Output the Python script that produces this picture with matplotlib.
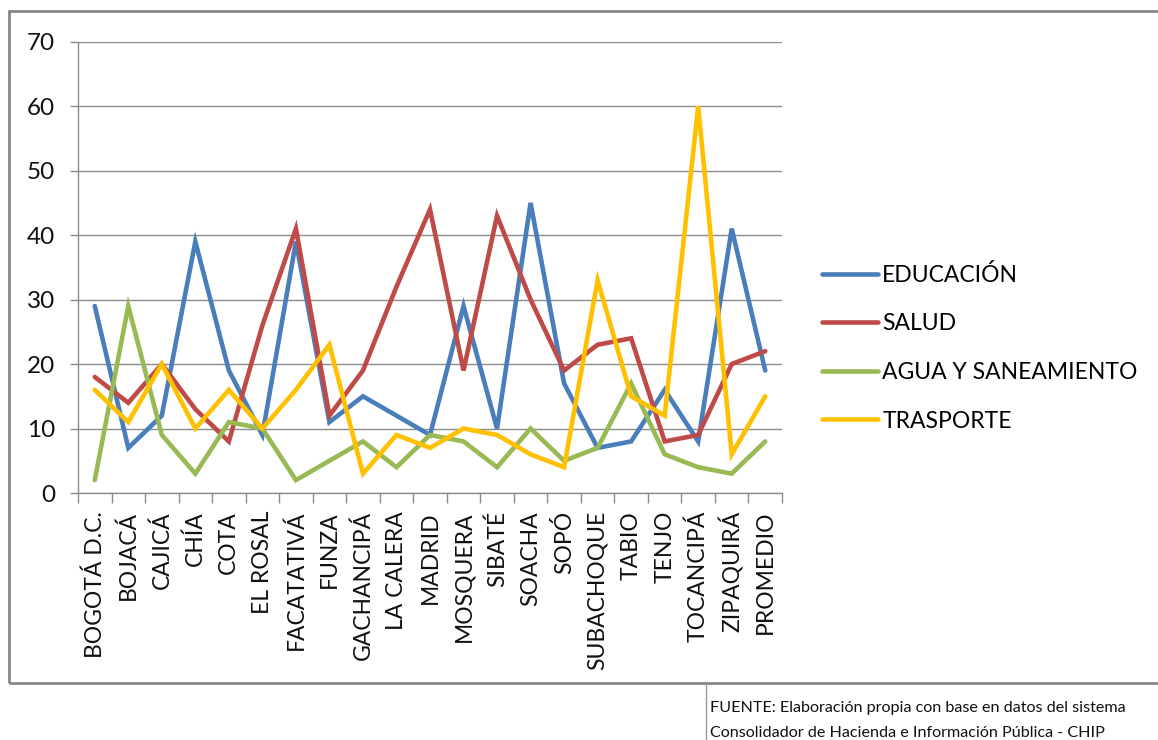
import matplotlib
matplotlib.use("Agg")
import matplotlib.pyplot as plt
from matplotlib.patches import Rectangle
from matplotlib.lines import Line2D
import numpy as np

municipios = ["BOGOTÁ D.C.", "BOJACÁ", "CAJICÁ", "CHÍA", "COTA", "EL ROSAL",
              "FACATATIVÁ", "FUNZA", "GACHANCIPÁ", "LA CALERA", "MADRID",
              "MOSQUERA", "SIBATÉ", "SOACHA", "SOPÓ", "SUBACHOQUE", "TABIO",
              "TENJO", "TOCANCIPÁ", "ZIPAQUIRÁ", "PROMEDIO"]

educacion = [29, 7, 12, 39, 19, 9, 39, 11, 15, 12, 9, 29, 10, 45, 17, 7, 8, 16, 8, 41, 19]
salud = [18, 14, 20, 13, 8, 26, 41, 12, 19, 32, 44, 19, 43, 30, 19, 23, 24, 8, 9, 20, 22]
agua = [2, 29, 9, 3, 11, 10, 2, 5, 8, 4, 9, 8, 4, 10, 5, 7, 17, 6, 4, 3, 8]
transporte = [16, 11, 20, 10, 16, 10, 16, 23, 3, 9, 7, 10, 9, 6, 4, 33, 15, 12, 60, 6, 15]

series_names = ["EDUCACIÓN", "SALUD", "AGUA Y SANEAMIENTO", "TRASPORTE"]
series_colors = ["#4A7EBB", "#BE4B48", "#98B954", "#FFC000"]
y_ticks = [0, 10, 20, 30, 40, 50, 60, 70]

FONT = ["Lato", "DejaVu Sans"]
plt.rcParams["font.family"] = FONT

W, H = 1158, 740
PX = 72 / 100  # points per pixel at 100 dpi
fig = plt.figure(figsize=(W / 100, H / 100), dpi=100)
fig.patch.set_facecolor("white")

# outer chart frame
fig.patches.append(Rectangle((9 / W, (H - 683) / H), (W + 20 - 9) / W, (683 - 11) / H,
                             transform=fig.transFigure, fill=False,
                             edgecolor="#878787", linewidth=2, zorder=0))
# source note box
fig.add_artist(Line2D([706 / W, 706 / W], [0, (H - 684) / H], transform=fig.transFigure,
                      color="#9a9a9a", linewidth=1))

x0, x1, y0, y1 = 78, 782, 493, 41.7
ax = fig.add_axes([x0 / W, (H - y0) / H, (x1 - x0) / W, (y0 - y1) / H])

x = np.arange(len(municipios))
for vals, name, col in zip([educacion, salud, agua, transporte], series_names, series_colors):
    ax.plot(x, vals, color=col, linewidth=3.3, label=name,
            solid_joinstyle="miter", solid_capstyle="round", zorder=3)

ax.set_xlim(-0.5, len(municipios) - 0.5)
ax.set_ylim(0, 70)
ax.set_yticks(y_ticks)
ax.set_yticklabels([str(v) for v in y_ticks], fontsize=17.5, color="#111111")
ax.yaxis.grid(True, color="#8c8c8c", linewidth=1.0, zorder=1)
ax.tick_params(axis="y", length=8 * PX, width=1, color="#8c8c8c", pad=15 * PX)

ax.set_xticks(x)
ax.set_xticklabels(municipios, rotation=90, fontsize=16.5, color="#111111")
ax.set_xticks(np.arange(-0.5, len(municipios)), minor=True)
ax.tick_params(axis="x", which="major", length=0, pad=18 * PX)
ax.tick_params(axis="x", which="minor", length=10 * PX, width=1, color="#8c8c8c")

for side in ["top", "right"]:
    ax.spines[side].set_visible(False)
for side in ["left", "bottom"]:
    ax.spines[side].set_color("#8c8c8c")
    ax.spines[side].set_linewidth(1.0)

handles, labels = ax.get_legend_handles_labels()
fig.legend(handles, labels, loc="upper left", bbox_to_anchor=(822 / W, (H - 264) / H),
           frameon=False, fontsize=16.5, handlelength=2.45, handletextpad=0.18,
           labelspacing=1.2, borderaxespad=0, borderpad=0)

fig.text(710 / W, (H - 708) / H, "FUENTE: Elaboración propia con base en datos del sistema",
         fontsize=11.6, va="center", ha="left", color="#111111")
fig.text(710 / W, (H - 733) / H, "Consolidador de Hacienda e Información Pública - CHIP",
         fontsize=11.6, va="center", ha="left", color="#111111")

fig.savefig("out.png", dpi=100)
